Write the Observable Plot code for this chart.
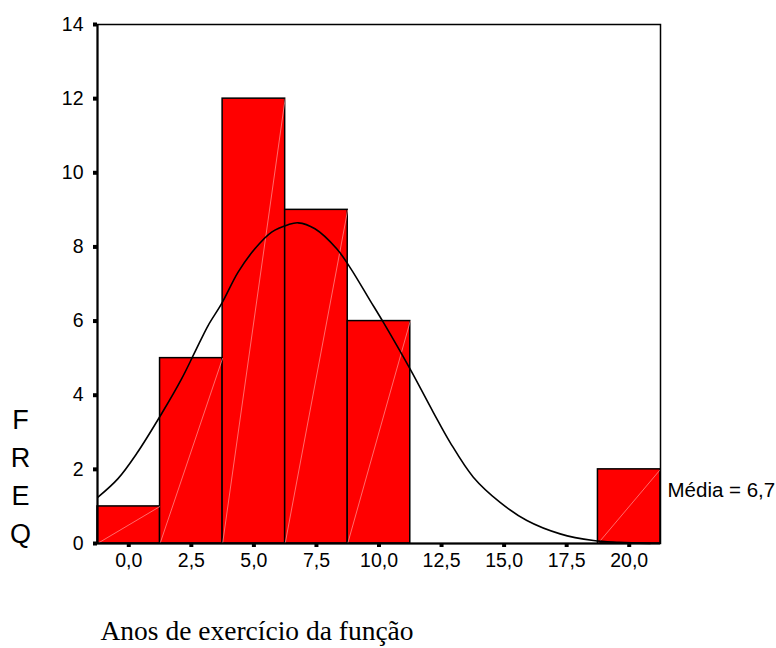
<!DOCTYPE html>
<html>
<head>
<meta charset="utf-8">
<script src="https://cdn.jsdelivr.net/npm/d3@7"></script>
<script src="https://cdn.jsdelivr.net/npm/@observablehq/plot@0.6"></script>
<style>
  html, body { margin: 0; padding: 0; background: #fff; }
</style>
</head>
<body>
<div id="chart"></div>
<script>
// Histogram bins (center of each 2,5-wide class) and frequencies
const binCenters = [0, 2.5, 5, 7.5, 10, 12.5, 15, 17.5, 20];
const binCounts  = [1, 5, 12, 9, 6, 0, 0, 0, 2];
const binWidth = 2.5;

// Normal curve
const curveX = [-1.23, -0.43, 0.31, 1.31, 2.11, 2.64, 3.17, 3.71, 4.37, 5.04, 5.71, 6.37, 6.77, 7.44, 8.31, 8.84, 9.64, 10.17, 11.24, 12.17, 12.84, 13.77, 14.84, 15.91, 17.24, 18.57, 19.6, 20.84];
const curveY = [1.25, 1.75, 2.42, 3.50, 4.44, 5.16, 5.88, 6.47, 7.32, 7.95, 8.40, 8.60, 8.65, 8.49, 7.95, 7.45, 6.56, 5.97, 4.71, 3.54, 2.73, 1.79, 1.11, 0.62, 0.26, 0.08, 0.03, 0.0];

// Axis ticks and texts
const xTicks = [0, 2.5, 5, 7.5, 10, 12.5, 15, 17.5, 20];
const yTicks = [0, 2, 4, 6, 8, 10, 12, 14];
const xDomain = [-1.25, 21.25];
const yDomain = [0, 14];
const xLabel = "Anos de exercício da função";
const yLabel = "FREQ";
const meanLabel = "Média = 6,7";

const bins = binCenters.map((c, i) => ({x1: c - binWidth / 2, x2: c + binWidth / 2, count: binCounts[i]}))
  .filter(d => d.count > 0);
const curve = curveX.map((x, i) => ({x, y: curveY[i]}));
const fmt = v => d3.format(".1f")(v).replace(".", ",");

const sans = "'Liberation Sans Narrow', 'Arial Narrow', 'Liberation Sans', Arial, sans-serif";

const chart = Plot.plot({
  width: 776,
  height: 648,
  marginLeft: 97,
  marginRight: 116,
  marginTop: 24,
  marginBottom: 105,
  style: {fontFamily: sans, fontSize: "19px", color: "#000", background: "#fff"},
  x: {domain: xDomain},
  y: {domain: yDomain},
  marks: [
    Plot.rectY(bins, {x1: "x1", x2: "x2", y: "count", fill: "#ff0000", stroke: "#000", strokeWidth: 1.5}),
    Plot.link(bins, {x1: "x1", y1: 0, x2: "x2", y2: "count", stroke: "#ff9a9a", strokeWidth: 0.7}),
    Plot.line(curve, {x: "x", y: "y", curve: "catmull-rom", stroke: "#000", strokeWidth: 1.6}),
    Plot.frame({stroke: "#000", strokeWidth: 1.5}),
    Plot.ruleY([0], {stroke: "#000", strokeWidth: 2}),
    Plot.ruleX([xDomain[0]], {stroke: "#000", strokeWidth: 2}),
    Plot.axisY({ticks: yTicks, tickSize: 4, tickPadding: 10, strokeWidth: 4, label: null, fontSize: 19.5}),
    Plot.axisX({ticks: xTicks, tickSize: 4, tickPadding: 6, strokeWidth: 4, tickFormat: fmt, label: null, fontSize: 19.5}),
    Plot.text([meanLabel], {frameAnchor: "bottom-right", dx: 7, dy: -47, textAnchor: "start", fontSize: 20.5, fill: "#000"}),
    Plot.text([yLabel.split("").join("\n")], {frameAnchor: "top-left", dx: -77, dy: 378, lineAnchor: "top", lineHeight: 1.4, fontSize: 27, textAnchor: "middle", fill: "#000"}),
    Plot.text([xLabel], {frameAnchor: "bottom-left", dx: 3, dy: 96, textAnchor: "start", fontSize: 27.5, fontFamily: "'Liberation Serif', 'Times New Roman', serif", fill: "#000"})
  ]
});
document.getElementById("chart").appendChild(chart);
</script>
</body>
</html>
